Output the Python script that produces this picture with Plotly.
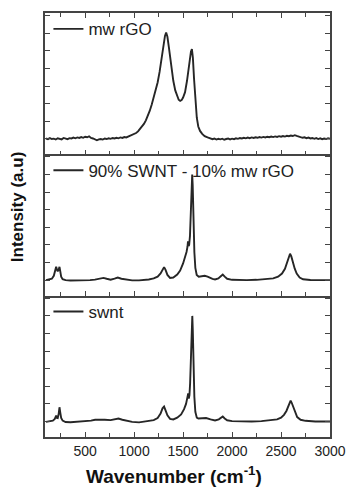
import plotly.graph_objects as go
from plotly.subplots import make_subplots

# ---------------- data ----------------
names = ["mw rGO", "90% SWNT - 10% mw rGO", "swnt"]

rgo_wn = [100,120,140,160,180,200,220,240,260,280,300,320,340,360,380,400,420,440,460,480,
          500,520,540,560,580,600,620,640,660,680,700,720,740,760,780,800,820,840,860,880,
          900,920,940,960,980,1000,1020,1040,1060,1080,1100,1120,1140,1160,1180,1200,1220,
          1240,1260,1280,1300,1315,1327,1340,1355,1370,1385,1400,1420,1440,1455,1470,1485,
          1500,1520,1540,1555,1570,1580,1590,1600,1612,1625,1640,1655,1673,1695,1720,1750,
          1780,1800,1820,1840,1860,1880,1900,1920,1940,1960,1980,2000,2020,2040,2060,2080,
          2100,2120,2140,2160,2180,2200,2220,2240,2260,2280,2300,2320,2340,2360,2380,2400,
          2420,2440,2460,2480,2500,2520,2540,2560,2580,2600,2620,2640,2660,2680,2700,2720,
          2740,2760,2780,2800,2820,2840,2860,2880,2900,2920,2940,2960,2980,3000]
rgo_int = [1.02,0.98,1.04,0.99,1.01,0.96,1.03,1.00,0.97,1.05,1.01,0.98,1.04,1.02,1.07,1.03,1.08,1.05,1.10,1.06,
           1.12,1.09,1.14,1.05,1.02,0.95,0.92,0.97,0.99,0.96,1.02,0.99,1.03,1.00,1.05,1.02,1.06,1.03,1.08,1.05,
           1.10,1.08,1.13,1.15,1.20,1.25,1.33,1.42,1.55,1.70,1.85,2.05,2.30,2.60,2.95,3.35,3.75,
           4.20,4.80,5.60,6.40,6.85,7.04,6.80,6.20,5.50,4.85,4.30,3.75,3.40,3.22,3.16,3.20,
           3.35,3.65,4.30,4.95,5.60,5.95,6.10,5.60,4.40,3.20,2.20,1.70,1.45,1.28,1.15,1.08,
           1.02,0.98,1.02,0.96,1.00,0.97,1.01,0.95,0.99,1.02,0.97,1.01,0.98,1.03,1.00,1.05,
           1.02,1.06,1.03,1.07,1.04,1.08,1.05,1.09,1.06,1.10,1.07,1.11,1.08,1.12,1.09,1.13,
           1.10,1.14,1.11,1.15,1.12,1.16,1.13,1.17,1.15,1.19,1.16,1.21,1.17,1.14,1.10,1.06,
           1.09,1.04,1.07,1.02,1.05,1.00,1.04,0.99,1.03,0.98,1.02,0.99,1.03,1.00]

mix_wn = [100,130,160,180,195,204,212,220,230,238,246,255,270,300,350,400,450,500,550,600,
          640,687,720,760,800,833,870,920,980,1050,1100,1150,1200,1240,1270,1290,1306,1320,
          1340,1367,1400,1440,1470,1500,1520,1535,1545,1550,1556,1562,1570,1580,1588,1593,
          1598,1605,1615,1625,1639,1660,1690,1720,1750,1775,1800,1826,1860,1885,1905,1925,
          1950,2000,2075,2150,2250,2350,2420,2470,2510,2540,2560,2580,2592,2605,2620,2640,
          2660,2690,2725,2800,2900,3000]
mix_int = [1.00,1.02,1.08,1.25,1.55,1.76,1.60,1.50,1.60,1.76,1.50,1.20,1.06,1.00,0.98,0.98,0.99,0.99,1.00,1.03,
           1.08,1.13,1.08,1.03,1.09,1.15,1.08,1.02,0.99,0.99,1.01,1.04,1.10,1.20,1.38,1.62,1.74,1.60,
           1.30,1.13,1.15,1.32,1.55,1.95,2.30,2.60,2.90,3.20,2.95,3.00,3.50,4.80,6.30,7.00,
           6.40,4.50,2.60,1.70,1.30,1.20,1.22,1.25,1.20,1.13,1.07,1.04,1.10,1.22,1.32,1.20,
           1.08,1.02,1.00,1.00,1.02,1.05,1.10,1.20,1.38,1.65,1.95,2.35,2.50,2.35,2.00,1.65,
           1.38,1.15,1.05,1.01,1.00,1.00]

swnt_wn = [100,140,170,190,204,212,220,230,238,246,255,270,300,350,400,450,500,560,602,650,
           700,760,800,840,880,930,980,1050,1100,1150,1200,1240,1270,1290,1306,1320,1340,1367,
           1400,1440,1480,1510,1530,1545,1552,1558,1565,1572,1580,1588,1594,1599,1606,1615,
           1625,1640,1656,1690,1735,1780,1826,1865,1885,1905,1925,1950,2000,2100,2200,2300,
           2400,2460,2500,2530,2555,2575,2590,2598,2610,2625,2645,2665,2700,2750,2850,2950,3000]
swnt_int = [0.98,1.00,1.05,1.15,1.34,1.20,1.19,1.45,1.81,1.50,1.20,1.05,0.97,0.96,0.98,0.99,1.00,1.05,1.10,1.08,
            1.10,1.08,1.12,1.17,1.10,1.03,0.98,0.95,0.98,1.02,1.08,1.20,1.45,1.75,1.85,1.65,1.35,1.15,
            1.12,1.22,1.40,1.70,2.00,2.40,2.60,2.30,2.50,3.20,4.50,6.30,7.00,6.20,4.20,2.40,
            1.55,1.22,1.17,1.18,1.20,1.12,1.06,1.12,1.20,1.28,1.17,1.07,1.02,1.00,1.00,1.02,
            1.06,1.12,1.22,1.38,1.60,1.90,2.12,2.19,2.05,1.80,1.45,1.25,1.10,1.04,1.00,1.00,1.00]

x_ticks = [500, 1000, 1500, 2000, 2500, 3000]
x_title = "Wavenumber (cm<sup>-1</sup>)"
y_title = "Intensity (a.u)"

# ---------------- figure ----------------
FONT = "Liberation Sans, Arial, sans-serif"
LINE = "#262626"
AX = "#444444"

fig = make_subplots(rows=3, cols=1, shared_xaxes=True, vertical_spacing=0)

series = [(rgo_wn, rgo_int), (mix_wn, mix_int), (swnt_wn, swnt_int)]
legends = ["legend", "legend2", "legend3"]
for i, ((wx, wy), nm) in enumerate(zip(series, names)):
    fig.add_trace(go.Scatter(x=wx, y=wy, mode="lines", name=nm,
                             line=dict(color=LINE, width=1.9),
                             legend=legends[i], showlegend=True),
                  row=i + 1, col=1)

for i in range(3):
    r = i + 1
    fig.update_xaxes(row=r, col=1, range=[90, 3000], showline=True, linecolor=AX, linewidth=1.5,
                     mirror="ticks" if i == 0 else False,
                     ticks="inside", ticklen=5, tickwidth=1.2, tickcolor=AX,
                     tickvals=x_ticks, showticklabels=(i == 2),
                     minor=dict(ticks="inside", ticklen=4, tickwidth=1.2, tickcolor=AX,
                                tickvals=[250, 750, 1250, 1750, 2250, 2750]),
                     showgrid=False, zeroline=False, automargin=False,
                     tickfont=dict(family=FONT, size=14, color="#222"))
    fig.update_yaxes(row=r, col=1, range=[0.12, 8.15], showline=True, linecolor=AX, linewidth=1.5,
                     mirror="ticks", ticks="inside", ticklen=5, tickwidth=1.2, tickcolor=AX,
                     tick0=0, dtick=1, showticklabels=False, showgrid=False, zeroline=False,
                     automargin=False)

doms = [fig.layout.yaxis.domain, fig.layout.yaxis2.domain, fig.layout.yaxis3.domain]
legend_common = dict(x=0.012, xanchor="left", yanchor="top", bgcolor="rgba(0,0,0,0)",
                     borderwidth=0, font=dict(family=FONT, size=17, color="#222"),
                     itemwidth=30, tracegroupgap=0)
fig.update_layout(
    legend=dict(y=doms[0][1] + 0.004, **legend_common),
    legend2=dict(y=doms[1][1] + 0.004, **legend_common),
    legend3=dict(y=doms[2][1] + 0.004, **legend_common),
)

fig.add_annotation(x=0.453, y=0, xref="paper", yref="paper", xanchor="center", yanchor="middle",
                   yshift=-38, text="<b>" + x_title + "</b>", showarrow=False,
                   font=dict(family=FONT, size=19, color="#111"))
fig.add_annotation(x=0, y=0.542, xref="paper", yref="paper", xanchor="center", yanchor="middle",
                   xshift=-28, textangle=-90, text="<b>" + y_title + "</b>", showarrow=False,
                   font=dict(family=FONT, size=17, color="#111"))

fig.update_layout(width=348, height=487,
                  margin=dict(l=45, r=18, t=13, b=50, autoexpand=False),
                  paper_bgcolor="white", plot_bgcolor="white",
                  font=dict(family=FONT, color="#222"))

fig.write_html("out.html")
